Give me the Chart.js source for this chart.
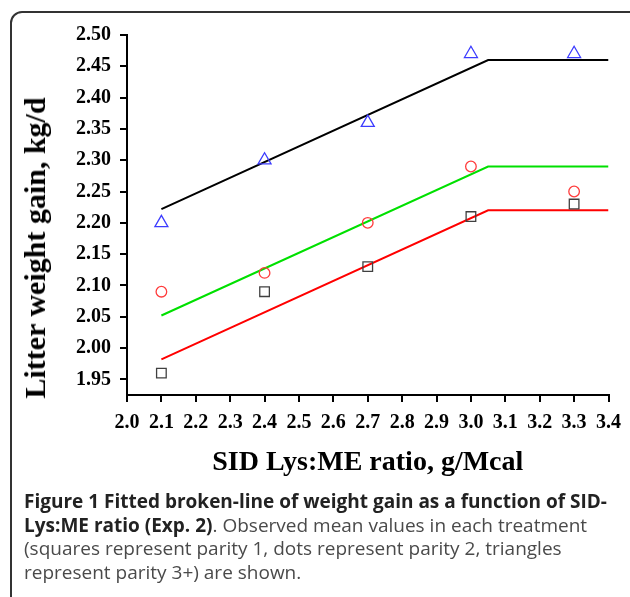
<!DOCTYPE html>
<html>
<head>
<meta charset="utf-8">
<script src="https://cdn.jsdelivr.net/npm/chart.js@4.4.1/dist/chart.umd.min.js"></script>
<style>
  html, body { margin: 0; padding: 0; width: 630px; height: 597px; overflow: hidden; background: #fff; }
  #frame { position: absolute; left: 10px; top: 11px; width: 640px; height: 640px; border: 2px solid #333; border-radius: 12px; box-sizing: border-box; }
  #plot { position: absolute; left: 0; top: 0; }
  #ytitle { position: absolute; left: 35px; top: 248px; transform: translate(-50%, -50%) rotate(-90deg); font: bold 30px "Liberation Serif"; white-space: nowrap; color: #000; }
  #caption { position: absolute; left: 24px; top: 490px; font-family: "Open Sans"; font-size: 19px; line-height: 23.5px; color: #4a4a4a; white-space: nowrap; }
  #caption b { color: #222; }
</style>
</head>
<body>
<div id="frame"></div>
<canvas id="plot" width="630" height="490"></canvas>
<div id="ytitle">Litter weight gain, kg/d</div>
<div id="caption"><b>Figure 1 Fitted broken-line of weight gain as a function of SID-<br>Lys:ME ratio (Exp. 2)</b>. Observed mean values in each treatment<br>(squares represent parity 1, dots represent parity 2, triangles<br>represent parity 3+) are shown.</div>
<script>
// observed means per treatment
const lysRatio = [2.1, 2.4, 2.7, 3.0, 3.3];
const parity1 = [1.96, 2.09, 2.13, 2.21, 2.23];
const parity2 = [2.09, 2.12, 2.20, 2.29, 2.25];
const parity3 = [2.20, 2.30, 2.36, 2.47, 2.47];

// fitted broken lines (start, breakpoint, end)
const fitX = [2.1, 3.05, 3.4];
const fit1 = [1.982, 2.22, 2.22];
const fit2 = [2.052, 2.29, 2.29];
const fit3 = [2.222, 2.46, 2.46];

const xTicks = [2.0, 2.1, 2.2, 2.3, 2.4, 2.5, 2.6, 2.7, 2.8, 2.9, 3.0, 3.1, 3.2, 3.3, 3.4];
const yTicks = [1.95, 2.00, 2.05, 2.10, 2.15, 2.20, 2.25, 2.30, 2.35, 2.40, 2.45, 2.50];

const pts = (xs, ys) => xs.map((x, i) => ({ x, y: ys[i] }));
const serif = 'Liberation Serif';

function fitLine(ys, color) {
  return { data: pts(fitX, ys), showLine: true, borderColor: color, borderWidth: 2, pointRadius: 0, order: 2 };
}
function marks(ys, style, color, r) {
  return { data: pts(lysRatio, ys), pointStyle: style, pointRadius: r, borderColor: color, backgroundColor: 'rgba(0,0,0,0)', pointBorderWidth: 1.3, order: 1 };
}

new Chart(document.getElementById('plot'), {
  type: 'scatter',
  data: {
    datasets: [
      fitLine(fit3, '#000000'),
      fitLine(fit2, '#00e000'),
      fitLine(fit1, '#ff0000'),
      marks(parity3, 'triangle', '#3c3cff', 7.5),
      marks(parity2, 'circle', '#ff3c3c', 5.3),
      marks(parity1, 'rect', '#404040', 6.8)
    ]
  },
  options: {
    responsive: false,
    animation: false,
    devicePixelRatio: 1,
    layout: { padding: { left: 0, top: 35, right: 21, bottom: 0 } },
    plugins: { legend: { display: false }, tooltip: { enabled: false } },
    scales: {
      x: {
        type: 'linear', min: 2.0, max: 3.4,
        afterFit: s => { s.height = 95; },
        afterBuildTicks: s => { s.ticks = xTicks.map(v => ({ value: v })); },
        ticks: { callback: v => v.toFixed(1), color: '#000', font: { family: serif, size: 20, weight: 'bold' }, padding: 9, maxRotation: 0, autoSkip: false },
        grid: { drawOnChartArea: false, drawTicks: true, tickLength: 7, color: '#000', lineWidth: 2 },
        border: { color: '#000', width: 2 },
        title: { display: true, text: 'SID Lys:ME ratio, g/Mcal', color: '#000', font: { family: serif, size: 28, weight: 'bold' }, padding: { top: 0, bottom: 10 } }
      },
      y: {
        type: 'linear', min: 1.925, max: 2.50,
        afterFit: s => { s.width = 127; },
        afterBuildTicks: s => { s.ticks = yTicks.map(v => ({ value: v })); },
        ticks: { callback: v => v.toFixed(2), color: '#000', font: { family: serif, size: 20, weight: 'bold' }, padding: 9, autoSkip: false },
        grid: { drawOnChartArea: false, drawTicks: true, tickLength: 7, color: '#000', lineWidth: 2 },
        border: { color: '#000', width: 2 }
      }
    }
  }
});
</script>
</body>
</html>
